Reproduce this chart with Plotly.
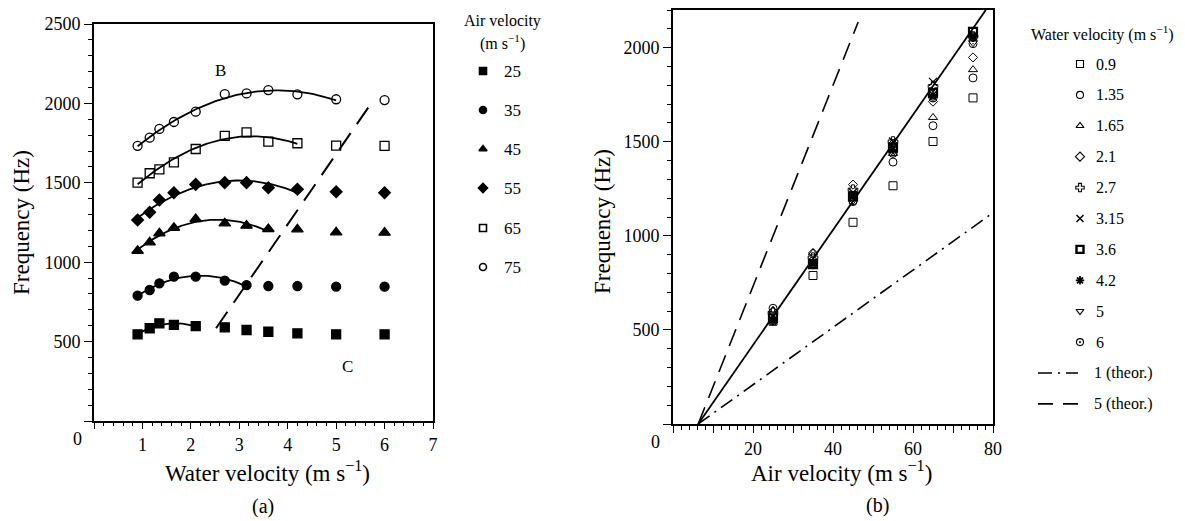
import numpy as np
import plotly.graph_objects as go

# ---------------- data ----------------
water_velocity = [0.9, 1.15, 1.35, 1.65, 2.1, 2.7, 3.15, 3.6, 4.2, 5.0, 6.0]
air_velocity = [25, 35, 45, 55, 65, 75]
freq_25 = [546, 584, 615, 605, 598, 590, 573, 562, 552, 546, 546]
freq_35 = [789, 825, 867, 909, 909, 884, 856, 850, 850, 846, 846]
freq_45 = [1072, 1125, 1182, 1217, 1272, 1245, 1230, 1209, 1207, 1188, 1186]
freq_55 = [1266, 1314, 1392, 1438, 1490, 1501, 1501, 1469, 1459, 1444, 1438]
freq_65 = [1501, 1560, 1585, 1629, 1713, 1795, 1818, 1759, 1749, 1734, 1732]
freq_75 = [1733, 1784, 1839, 1883, 1948, 2059, 2063, 2084, 2057, 2026, 2021]
freq_by_air = [freq_25, freq_35, freq_45, freq_55, freq_65, freq_75]
fit_upto = [2.1, 3.15, 3.6, 4.2, 4.2, 5.0]   # last water velocity of each fitted curve

boundary_x = [2.52, 5.77]     # dashed line B/C in (a)
boundary_y = [584, 2021]

water_b = [0.9, 1.35, 1.65, 2.1, 2.7, 3.15, 3.6, 4.2, 5.0, 6.0]
water_b_labels = ["0.9", "1.35", "1.65", "2.1", "2.7", "3.15", "3.6", "4.2", "5", "6"]
exp_line_x = [6.3, 78.2]
exp_line_y = [0, 2200]
theor1_x = [6.3, 79.5]
theor1_y = [0, 1115]
theor5_x = [6.3, 46.3]
theor5_y = [0, 2136]

# ---------------- styles ----------------
FONT = "Liberation Serif, Times New Roman, serif"
W, H = 1185, 521
sym_a = ["square", "circle", "triangle-up", "diamond", "square-open", "circle-open"]
size_a = [9, 9, 10, 9, 9, 9]
sym_b = ["square-open", "circle-open", "triangle-up-open", "diamond-open", "cross-open",
         "x-thin-open", "square-open", "asterisk-open", "triangle-down-open", "circle-open-dot"]
lw_b = [1, 1, 1, 1, 1, 1.3, 2.2, 1.6, 1, 1]
size_b = [8, 8, 8, 7, 8, 8, 8, 8, 8, 8]

fig = go.Figure()

# ---------------- panel (a) ----------------
for i, air in enumerate(air_velocity):
    f = freq_by_air[i]
    xs = [w for w in water_velocity if w <= fit_upto[i] + 1e-9]
    ys = f[:len(xs)]
    c = np.polyfit(xs, ys, 2)
    xx = np.linspace(xs[0], xs[-1], 80)
    fig.add_trace(go.Scatter(x=xx, y=np.polyval(c, xx), mode="lines",
                             line=dict(color="black", width=1.8), xaxis="x", yaxis="y",
                             showlegend=False, hoverinfo="skip"))
for i, air in enumerate(air_velocity):
    fig.add_trace(go.Scatter(x=water_velocity, y=freq_by_air[i], mode="markers",
                             marker=dict(symbol=sym_a[i], size=size_a[i], color="black",
                                         line=dict(color="black", width=1.3)),
                             xaxis="x", yaxis="y", showlegend=False))
fig.add_trace(go.Scatter(x=boundary_x, y=boundary_y, mode="lines",
                         line=dict(color="black", width=2, dash="20px,11px"),
                         xaxis="x", yaxis="y", showlegend=False))

# ---------------- panel (b) ----------------
fig.add_trace(go.Scatter(x=exp_line_x, y=exp_line_y, mode="lines",
                         line=dict(color="black", width=1.8), xaxis="x2", yaxis="y2", showlegend=False))
fig.add_trace(go.Scatter(x=theor1_x, y=theor1_y, mode="lines",
                         line=dict(color="black", width=1.6, dash="14px,6px,2px,6px"),
                         xaxis="x2", yaxis="y2", showlegend=False))
fig.add_trace(go.Scatter(x=theor5_x, y=theor5_y, mode="lines",
                         line=dict(color="black", width=1.6, dash="18px,10px"),
                         xaxis="x2", yaxis="y2", showlegend=False))
for j, w in enumerate(water_b):
    k = water_velocity.index(w)
    ys = [freq_by_air[i][k] for i in range(len(air_velocity))]
    fig.add_trace(go.Scatter(x=air_velocity, y=ys, mode="markers",
                             marker=dict(symbol=sym_b[j], size=size_b[j], color="black",
                                         line=dict(color="black", width=lw_b[j])),
                             xaxis="x2", yaxis="y2", showlegend=False))

# ---------------- hand-made legends (pixel axis) ----------------
leg_a_y = [71, 110, 149, 188, 228, 267]
fig.add_trace(go.Scatter(x=[483] * 6, y=leg_a_y, mode="markers",
                         marker=dict(symbol=sym_a, size=7, color="black",
                                     line=dict(color="black", width=1.6)),
                         xaxis="x3", yaxis="y3", showlegend=False))
leg_b_y = [64 + 30.9 * i for i in range(12)]
for j in range(10):
    fig.add_trace(go.Scatter(x=[1080], y=[leg_b_y[j]], mode="markers",
                             marker=dict(symbol=sym_b[j], size=7, color="black",
                                         line=dict(color="black", width=lw_b[j] * 1.1)),
                             xaxis="x3", yaxis="y3", showlegend=False))
fig.add_trace(go.Scatter(x=[1038, 1078], y=[leg_b_y[10]] * 2, mode="lines",
                         line=dict(color="black", width=1.6, dash="14px,6px,2px,6px"),
                         xaxis="x3", yaxis="y3", showlegend=False))
fig.add_trace(go.Scatter(x=[1038, 1078], y=[leg_b_y[11]] * 2, mode="lines",
                         line=dict(color="black", width=1.6, dash="15px,10px"),
                         xaxis="x3", yaxis="y3", showlegend=False))

ann = []
def txt(x, y, s, size=16, anchor="center", angle=0):
    ann.append(dict(x=x, y=y, xref="x3", yref="y3", text=s, showarrow=False,
                    font=dict(family=FONT, size=size, color="black"),
                    xanchor=anchor, yanchor="middle", textangle=angle))

txt(502, 21, "Air velocity", 16)
txt(502, 42, "(m s<sup>−1</sup>)", 16)
for yv, a in zip(leg_a_y, air_velocity):
    txt(502, yv, str(a), 17, "left")
txt(1102, 33, "Water velocity (m s<sup>−1</sup>)", 16)
for j in range(10):
    txt(1094, leg_b_y[j], water_b_labels[j], 16, "left")
txt(1092, leg_b_y[10], "1 (theor.)", 16, "left")
txt(1092, leg_b_y[11], "5 (theor.)", 16, "left")

# axis titles and panel labels
txt(21, 223, "Frequency (Hz)", 23, angle=-90)
txt(267, 471, "Water velocity (m s<sup>−1</sup>)", 23)
txt(263, 506, "(a)", 20)
txt(77, 439, "0", 18)
txt(220, 70, "B", 17)
txt(347, 366, "C", 17)

txt(602, 222, "Frequency (Hz)", 23, angle=-90)
txt(841, 471, "Air velocity (m s<sup>−1</sup>)", 23)
txt(877, 505, "(b)", 20)
txt(655, 442, "0", 18)

# ---------------- layout ----------------
def px_x(a, b):
    return [a / W, b / W]

def px_y(top, bottom):
    return [1 - bottom / H, 1 - top / H]

tickfont = dict(family=FONT, size=18, color="black")
common = dict(showgrid=False, zeroline=False, showline=True, linecolor="black", linewidth=1.8,
              mirror=True, ticks="outside", tickcolor="black", tickwidth=1.2, tickfont=tickfont)

fig.update_layout(
    width=W, height=H, margin=dict(l=0, r=0, t=0, b=0, pad=0, autoexpand=False),
    paper_bgcolor="white", plot_bgcolor="rgba(0,0,0,0)", showlegend=False,
    xaxis=dict(domain=px_x(94, 433), range=[0, 7], tickvals=list(range(0, 8)),
               ticktext=[""] + [str(v) for v in range(1, 8)], ticklen=6,
               minor=dict(dtick=0.2, ticklen=3, ticks="outside", tickcolor="black", tickwidth=1),
               anchor="y", **common),
    yaxis=dict(domain=px_y(24, 421), range=[0, 2500], tickvals=list(range(0, 2501, 500)),
               ticktext=[""] + [str(v) for v in range(500, 2501, 500)], ticklen=8,
               minor=dict(dtick=100, ticklen=4, ticks="outside", tickcolor="black", tickwidth=1),
               anchor="x", **common),
    xaxis2=dict(domain=px_x(673, 993), range=[0, 80], tickvals=list(range(0, 81, 10)),
                ticktext=["" if v % 20 or v == 0 else str(v) for v in range(0, 81, 10)], ticklen=7,
                minor=dict(dtick=2, ticklen=4, ticks="outside", tickcolor="black", tickwidth=1),
                anchor="y2", **common),
    yaxis2=dict(domain=px_y(10, 424), range=[0, 2200], tickvals=list(range(0, 2201, 500)),
                ticktext=[""] + [str(v) for v in range(500, 2001, 500)], ticklen=8,
                minor=dict(dtick=100, ticklen=4, ticks="outside", tickcolor="black", tickwidth=1),
                anchor="x2", **common),
    xaxis3=dict(domain=[0, 1], range=[0, W], visible=False, fixedrange=True, anchor="y3"),
    yaxis3=dict(domain=[0, 1], range=[H, 0], visible=False, fixedrange=True, anchor="x3"),
    annotations=ann,
)

fig.write_html("out.html", config={"displayModeBar": False},
               post_script="document.body.style.margin='0';document.body.style.overflow='hidden';")
